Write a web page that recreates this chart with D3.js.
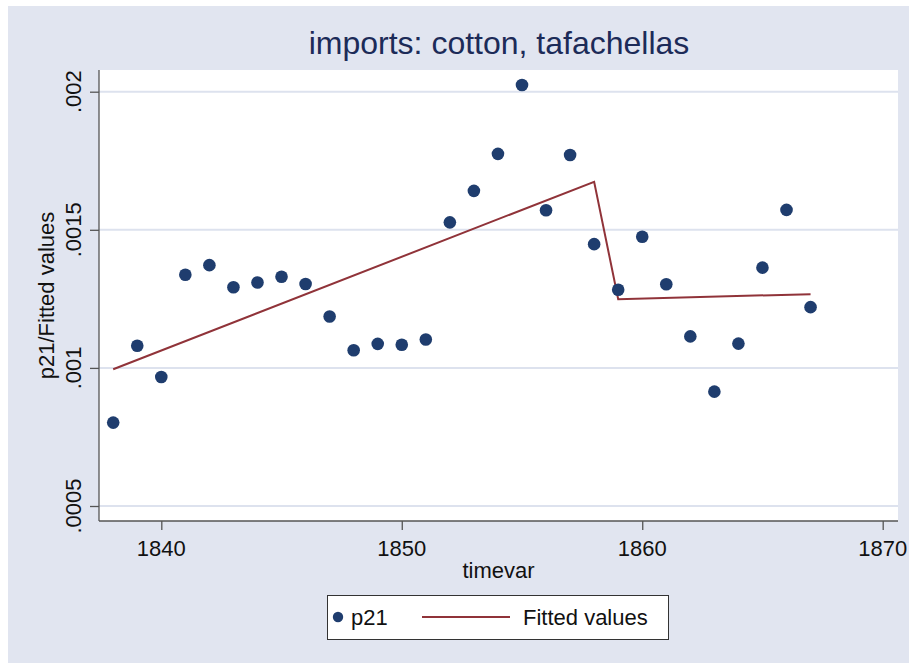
<!DOCTYPE html>
<html>
<head>
<meta charset="utf-8">
<script src="https://cdn.jsdelivr.net/npm/d3@7"></script>
<style>
  html, body { margin: 0; padding: 0; background: #fff; }
  svg { display: block; font-family: Arial, "Liberation Sans", sans-serif; }
</style>
</head>
<body>
<script>
// p21 observations, one per year
const years = [1838, 1839, 1840, 1841, 1842, 1843, 1844, 1845, 1846, 1847,
               1848, 1849, 1850, 1851, 1852, 1853, 1854, 1855, 1856, 1857,
               1858, 1859, 1860, 1861, 1862, 1863, 1864, 1865, 1866, 1867];
const p21 = [0.000802, 0.00108, 0.000967, 0.001337, 0.001372, 0.001292, 0.001309, 0.00133, 0.001304, 0.001186,
             0.001064, 0.001087, 0.001084, 0.001103, 0.001527, 0.001641, 0.001775, 0.002024, 0.001571, 0.001771,
             0.001448, 0.001283, 0.001475, 0.001303, 0.001114, 0.000914, 0.001088, 0.001363, 0.001572, 0.00122];

// fitted values (piecewise linear, break after 1858)
const fitYears = [1838, 1858, 1859, 1867];
const fitValues = [0.000995, 0.001674, 0.001249, 0.001267];

const xTicks = [1840, 1850, 1860, 1870];
const yTicks = [0.0005, 0.001, 0.0015, 0.002];
const yTickLabels = [".0005", ".001", ".0015", ".002"];

const width = 910, height = 663;
const bg = "#e1e5f0", grid = "#dde2ee";
const navy = "#1f3d6e", maroon = "#903339";

const plot = {left: 99, right: 898, top: 70, bottom: 521};

const x = d3.scaleLinear().domain([1840, 1870]).range([161.3, 882.7]);
const y = d3.scaleLinear().domain([0.0005, 0.002]).range([506, 91.7]);

const svg = d3.select("body").append("svg")
    .attr("width", width)
    .attr("height", height);

svg.append("rect")
    .attr("x", 8).attr("y", 6)
    .attr("width", width - 9).attr("height", height - 6)
    .attr("fill", bg);

svg.append("rect")
    .attr("x", plot.left).attr("y", plot.top)
    .attr("width", plot.right - plot.left).attr("height", plot.bottom - plot.top)
    .attr("fill", "#fff");

// gridlines
svg.append("g")
  .selectAll("line")
  .data(yTicks)
  .join("line")
    .attr("x1", plot.left).attr("x2", plot.right)
    .attr("y1", d => y(d)).attr("y2", d => y(d))
    .attr("stroke", grid)
    .attr("stroke-width", 2);

// y axis
const yAxis = svg.append("g")
    .attr("transform", `translate(${plot.left},0)`)
    .call(d3.axisLeft(y).tickValues(yTicks).tickSize(9).tickFormat(""));
yAxis.select(".domain").attr("d", `M0,${plot.top}V${plot.bottom}`);
yAxis.selectAll("line, path").attr("stroke", "#555").attr("stroke-width", 1.3);

svg.append("g")
  .selectAll("text")
  .data(yTicks)
  .join("text")
    .attr("transform", d => `translate(81,${y(d)}) rotate(-90)`)
    .attr("text-anchor", "middle")
    .attr("font-size", 22)
    .attr("fill", "#111")
    .text((d, i) => yTickLabels[i]);

// x axis
const xAxis = svg.append("g")
    .attr("transform", `translate(0,${plot.bottom})`)
    .call(d3.axisBottom(x).tickValues(xTicks).tickSize(9).tickFormat(""));
xAxis.select(".domain").attr("d", `M${plot.left},0H${plot.right}`);
xAxis.selectAll("line, path").attr("stroke", "#555").attr("stroke-width", 1.3);

svg.append("g")
  .selectAll("text")
  .data(xTicks)
  .join("text")
    .attr("x", d => x(d))
    .attr("y", 556)
    .attr("text-anchor", "middle")
    .attr("font-size", 22)
    .attr("fill", "#111")
    .text(d => d);

// axis titles
svg.append("text")
    .attr("x", (plot.left + plot.right) / 2)
    .attr("y", 578)
    .attr("text-anchor", "middle")
    .attr("font-size", 22)
    .attr("fill", "#111")
    .text("timevar");

svg.append("text")
    .attr("transform", `translate(54,${(plot.top + plot.bottom) / 2}) rotate(-90)`)
    .attr("text-anchor", "middle")
    .attr("font-size", 22)
    .attr("fill", "#111")
    .text("p21/Fitted values");

// title
svg.append("text")
    .attr("x", 499)
    .attr("y", 54)
    .attr("text-anchor", "middle")
    .attr("font-size", 32)
    .attr("fill", "#1c2b58")
    .text("imports: cotton, tafachellas");

// fitted line
svg.append("path")
    .datum(fitYears.map((d, i) => [d, fitValues[i]]))
    .attr("fill", "none")
    .attr("stroke", maroon)
    .attr("stroke-width", 2)
    .attr("d", d3.line().x(d => x(d[0])).y(d => y(d[1])));

// scatter
svg.append("g")
    .attr("fill", navy)
  .selectAll("circle")
  .data(years.map((d, i) => [d, p21[i]]))
  .join("circle")
    .attr("cx", d => x(d[0]))
    .attr("cy", d => y(d[1]))
    .attr("r", 6.3);

// legend
const lg = svg.append("g");
lg.append("rect")
    .attr("x", 327.5).attr("y", 595.5)
    .attr("width", 341).attr("height", 44)
    .attr("fill", "#fff")
    .attr("stroke", "#333")
    .attr("stroke-width", 1);
lg.append("circle")
    .attr("cx", 338).attr("cy", 617)
    .attr("r", 5.2)
    .attr("fill", navy);
lg.append("text")
    .attr("x", 351).attr("y", 625)
    .attr("font-size", 22)
    .attr("fill", "#111")
    .text("p21");
lg.append("line")
    .attr("x1", 422).attr("x2", 510)
    .attr("y1", 617).attr("y2", 617)
    .attr("stroke", maroon)
    .attr("stroke-width", 2);
lg.append("text")
    .attr("x", 523).attr("y", 625)
    .attr("font-size", 22)
    .attr("fill", "#111")
    .text("Fitted values");
</script>
</body>
</html>
